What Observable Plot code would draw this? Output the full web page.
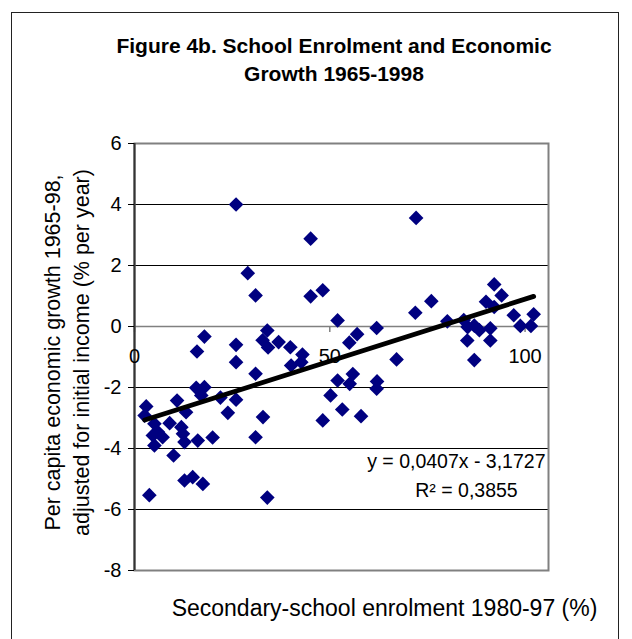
<!DOCTYPE html>
<html><head><meta charset="utf-8">
<script src="https://cdn.jsdelivr.net/npm/d3@7"></script>
<script src="https://cdn.jsdelivr.net/npm/@observablehq/plot@0.6"></script>
<style>
body{margin:0;background:#fff;font-family:"Liberation Sans",Arial,sans-serif;}
#wrap{position:relative;width:632px;height:639px;overflow:hidden;background:#fff}
#frame{position:absolute;left:11px;top:12px;width:608px;height:700px;border:1.5px solid #222;box-sizing:border-box;pointer-events:none}
#title{position:relative;height:130px;box-sizing:border-box;padding-left:36px;padding-top:32px;text-align:center;font-weight:bold;font-size:21px;line-height:28px;color:#000}
svg{display:block;overflow:visible}
</style></head>
<body>
<div id="wrap"><div id="frame"></div>
<div id="title">Figure 4b. School Enrolment and Economic<br>Growth 1965-1998</div>
<div id="chart"></div>
</div>
<script>
const enrolment = [26.0,72.1,29.0,31.0,45.1,45.1,48.2,52.0,17.9,16.0,26.0,26.0,34.0,32.8,34.2,31.0,36.9,39.9,43.0,42.7,40.1,57.0,55.0,62.0,67.1,71.9,52.0,55.9,55.1,62.1,62.0,50.2,53.2,48.2,58.0,92.1,94.0,90.0,92.1,76.0,80.1,84.3,85.3,87.0,88.3,91.1,85.2,91.1,87.0,97.1,102.2,98.8,101.5,3.0,2.6,10.9,13.2,9.0,5.1,6.0,4.7,7.2,5.1,12.0,12.4,12.8,16.2,20.0,10.0,15.8,17.9,17.1,22.0,26.0,23.9,32.9,31.0,12.8,14.9,17.5,3.8,34.0];
const growth = [4.0,3.56,1.75,1.02,2.88,0.99,1.19,0.20,-0.33,-0.82,-0.60,-1.17,-0.13,-0.45,-0.69,-1.55,-0.51,-0.68,-0.92,-1.17,-1.28,-0.25,-0.53,-0.05,-1.08,0.45,-1.77,-1.56,-1.88,-1.80,-2.04,-2.26,-2.72,-3.08,-2.94,1.38,1.02,0.81,0.64,0.83,0.17,0.21,-0.02,0.03,-0.12,-0.06,-0.46,-0.46,-1.10,0.37,0.40,0.02,0.02,-2.62,-2.92,-2.43,-2.81,-3.17,-3.19,-3.46,-3.57,-3.63,-3.90,-3.30,-3.52,-3.79,-3.74,-3.64,-4.23,-2.01,-1.99,-2.26,-2.33,-2.40,-2.83,-2.97,-3.63,-5.05,-4.94,-5.16,-5.53,-5.61];
const xTicks = [0, 50, 100];
const yTicks = [-8, -6, -4, -2, 0, 2, 4, 6];
const trendSlope = 0.0407;
const trendIntercept = -3.1727;
const rSquared = 0.3855;
const xTitle = "Secondary-school enrolment 1980-97 (%)";
const yTitle = "Per capita economic growth 1965-98,\nadjusted for initial income (% per year)";

const pts = enrolment.map((x, i) => ({x, y: growth[i]}));
const [x0, x1] = d3.extent(enrolment);
const trend = [x0, x1].map(x => ({x, y: trendSlope * x + trendIntercept}));
const fmt = v => String(v).replace(".", ",");
const eq1 = `y = ${fmt(trendSlope)}x - ${fmt(-trendIntercept)}`;
const eq2 = `R² = ${fmt(rSquared)}`;

const font = '"Liberation Sans", Arial, sans-serif';
const chart = Plot.plot({
  width: 632, height: 509,
  marginLeft: 134, marginRight: 84, marginTop: 13, marginBottom: 69,
  style: {fontFamily: font, background: "#fff", color: "#000", overflow: "visible"},
  x: {domain: [0, 106], axis: null},
  y: {domain: [-8, 6], axis: null},
  marks: [
    Plot.ruleY(yTicks.filter(d => d !== 0 && d !== 6 && d !== -8), {stroke: "#000", strokeWidth: 1}),
    Plot.frame({stroke: "#808080", strokeWidth: 2}),
    Plot.ruleY([0], {stroke: "#808080", strokeWidth: 1.5}),
    Plot.ruleX(xTicks, {x: d => d, y1: 0, y2: -0.2, stroke: "#808080", strokeWidth: 1.5}),
    Plot.ruleX([0], {stroke: "#333", strokeWidth: 2}),
    Plot.axisY({ticks: yTicks, label: null, tickSize: 6, tickPadding: 7, fontSize: 20, stroke: "#000", tickFormat: d => String(d)}),
    Plot.text(xTicks, {x: d => d, y: 0, text: d => String(d), dy: 30, fontSize: 20, fill: "#000"}),
    Plot.dot(pts, {x: "x", y: "y", symbol: "diamond2", r: 6.6, fill: "#000080", stroke: "none"}),
    Plot.line(trend, {x: "x", y: "y", stroke: "#000", strokeWidth: 4.8}),
    Plot.text([eq1], {x: 82.4, y: -4.43, text: d => d, fontSize: 19.5, fill: "#000"}),
    Plot.text([eq2], {x: 85.0, y: -5.38, text: d => d, fontSize: 19.5, fill: "#000"}),
    Plot.text([xTitle], {frameAnchor: "bottom", dy: 45, dx: 43, text: d => d, fontSize: 23, fill: "#000"}),
    Plot.text([yTitle], {frameAnchor: "left", textAnchor: "middle", dx: -69.5, dy: -4.5, rotate: -90, text: d => d, fontSize: 21.5, lineHeight: 1.35, fill: "#000"})
  ]
});
document.getElementById("chart").appendChild(chart);
</script>
</body></html>
